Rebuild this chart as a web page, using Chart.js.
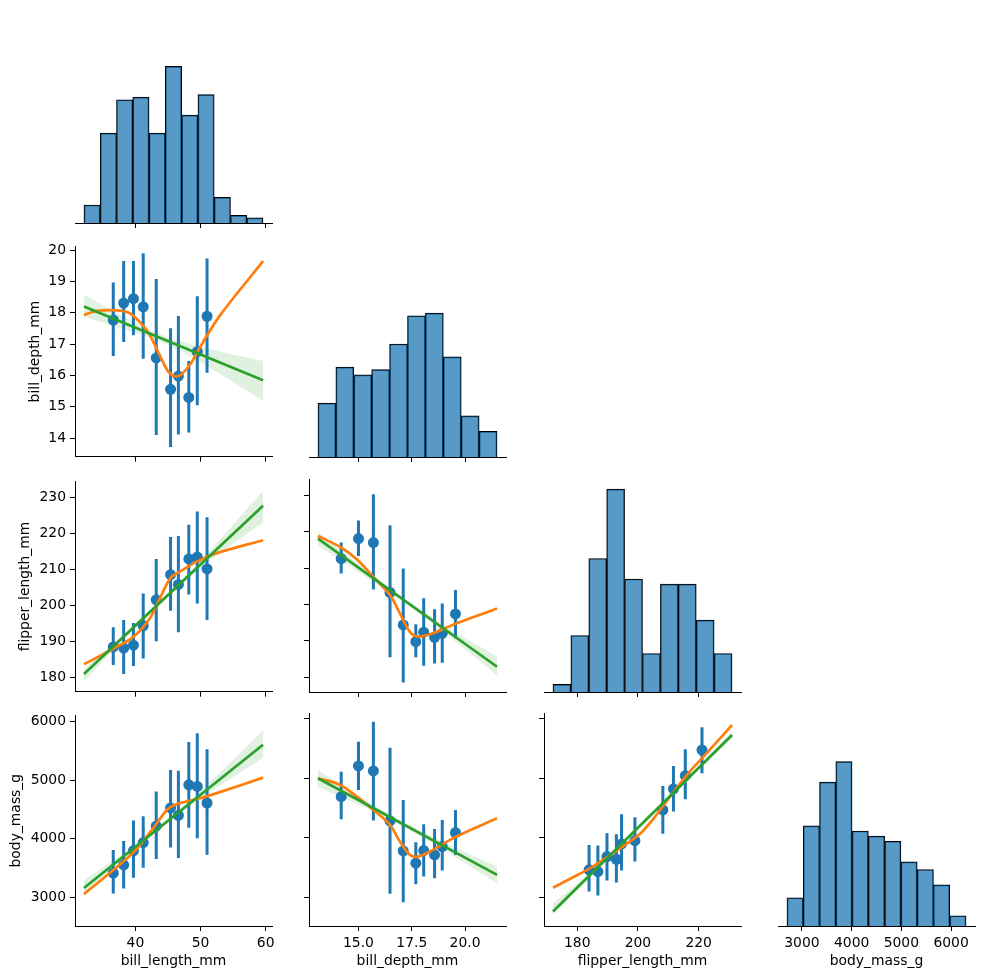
<!DOCTYPE html>
<html>
<head>
<meta charset="utf-8">
<script src="https://cdn.jsdelivr.net/npm/chart.js@4.4.1/dist/chart.umd.min.js"></script>
<style>
  body { margin: 0; background: #fff; }
  #fig { position: relative; width: 983px; height: 980px; overflow: hidden; }
  #fig canvas { position: absolute; }
</style>
</head>
<body>
<div id="fig"></div>
<script>
// variables of the pair grid
var vars = ['bill_length_mm', 'bill_depth_mm', 'flipper_length_mm', 'body_mass_g'];
var colLimits = [[30.725, 60.975], [12.68, 21.92], [169.05, 233.95], [2520, 6480]];
var rowLimits = [null, [13.41, 20.12], [175.97, 234.47], [2515, 6101]];
var colTicks = [[40, 50, 60], [15, 17.5, 20], [180, 200, 220], [3000, 4000, 5000, 6000]];
var rowTicks = [null, [14, 15, 16, 17, 18, 19, 20], [180, 190, 200, 210, 220, 230], [3000, 4000, 5000, 6000]];

// histograms (diagonal)
var lenEdges = [32.1, 34.6, 37.1, 39.6, 42.1, 44.6, 47.1, 49.6, 52.1, 54.6, 57.1, 59.6];
var lenCounts = [7, 35, 48, 49, 35, 61, 42, 50, 10, 3, 2];
var depEdges = [13.1, 13.94, 14.78, 15.62, 16.46, 17.3, 18.14, 18.98, 19.82, 20.66, 21.5];
var depCounts = [21, 35, 32, 34, 44, 55, 56, 39, 16, 10];
var flipEdges = [172, 177.9, 183.8, 189.7, 195.6, 201.5, 207.4, 213.3, 219.2, 225.1, 231];
var flipCounts = [3, 22, 52, 79, 44, 15, 42, 42, 28, 15];
var massEdges = [2700, 3027, 3355, 3682, 4009, 4336, 4664, 4991, 5318, 5645, 5973, 6300];
var massCounts = [11, 39, 56, 64, 37, 35, 33, 25, 22, 16, 4];
var histMax = 82.95;

// x bins (blue points)
var lenBins = [36.6, 38.2, 39.7, 41.2, 43.2, 45.4, 46.6, 48.2, 49.5, 51.0];
var depBins = [14.19, 15.0, 15.7, 16.48, 17.1, 17.69, 18.06, 18.57, 18.93, 19.55];
var flipBins = [183.9, 186.8, 189.8, 192.9, 194.6, 199.0, 208.2, 211.7, 215.6, 221.1];

// bill_depth vs bill_length
var depLenMean = [17.77, 18.31, 18.45, 18.19, 16.56, 15.56, 15.98, 15.30, 16.76, 17.89];
var depLenLo = [16.62, 17.07, 17.28, 16.53, 14.10, 13.72, 14.12, 14.18, 15.05, 16.09];
var depLenHi = [18.97, 19.65, 19.65, 19.90, 19.08, 17.51, 17.90, 16.46, 18.53, 19.73];
var depLenLowX = [32.1, 34.1, 37.2, 39.0, 40.5, 42.1, 43.6, 44.9, 45.9, 46.9, 48.5, 50.5, 53.1, 59.6];
var depLenLowY = [17.93, 18.06, 18.08, 18.0, 17.74, 17.33, 16.7, 16.17, 15.98, 16.01, 16.38, 17.11, 17.95, 19.65];
var depLenFitX = [32.1, 59.6];
var depLenFitY = [18.2, 15.85];
var depLenBandX = [32.1, 38, 44, 50, 59.6];
var depLenBandHi = [18.58, 17.9, 17.30, 16.92, 16.46];
var depLenBandLo = [17.87, 17.5, 17.06, 16.42, 15.2];

// flipper_length vs bill_length
var flipLenMean = [188.4, 188.1, 188.9, 194.3, 201.5, 208.5, 205.8, 212.9, 213.4, 210.1];
var flipLenLo = [183.4, 180.9, 183.1, 185.2, 190.0, 198.5, 192.5, 203.0, 200.5, 195.9];
var flipLenHi = [193.9, 195.9, 195.1, 203.3, 212.9, 219.0, 219.3, 222.4, 226.1, 224.5];
var flipLenLowX = [32.1, 36.2, 39.7, 42.3, 43.8, 45.4, 46.9, 49.5, 52.5, 59.6];
var flipLenLowY = [183.6, 187.5, 191.2, 196.6, 202.1, 207.6, 209.4, 212.2, 214.5, 218.1];
var flipLenFitX = [32.1, 59.6];
var flipLenFitY = [180.9, 227.7];
var flipLenBandX = [32.1, 38, 44, 50, 59.6];
var flipLenBandHi = [182.2, 191.8, 201.7, 212.4, 231.8];
var flipLenBandLo = [178.8, 190.0, 200.5, 210.4, 223.1];

// body_mass vs bill_length
var massLenMean = [3414, 3555, 3796, 3936, 4217, 4525, 4397, 4918, 4890, 4609];
var massLenLo = [3068, 3152, 3337, 3505, 3657, 3852, 3673, 4188, 4010, 3729];
var massLenHi = [3808, 3964, 4313, 4385, 4806, 5170, 5159, 5647, 5798, 5524];
var massLenLowX = [32.1, 36.2, 39.7, 42.8, 44.9, 46.4, 49.5, 52.5, 59.6];
var massLenLowY = [3056, 3431, 3768, 4188, 4497, 4592, 4676, 4777, 5041];
var massLenFitX = [32.1, 59.6];
var massLenFitY = [3162, 5601];
var massLenBandX = [32.1, 38, 44, 50, 59.6];
var massLenBandHi = [3291, 3740, 4257, 4815, 5843];
var massLenBandLo = [3078, 3630, 4177, 4685, 5378];

// flipper_length vs bill_depth
var flipDepMean = [212.6, 218.1, 217.0, 203.3, 194.4, 189.8, 192.4, 191.0, 192.1, 197.4];
var flipDepLo = [208.5, 213.3, 204.1, 185.5, 178.6, 185.5, 183.2, 183.8, 184.0, 190.7];
var flipDepHi = [217.0, 223.1, 230.3, 221.8, 209.9, 194.6, 201.7, 198.7, 200.3, 204.0];
var flipDepLowX = [13.1, 14.15, 14.92, 15.7, 16.48, 16.94, 17.41, 17.8, 18.49, 19.58, 21.5];
var flipDepLowY = [218.8, 215.8, 212.4, 207.6, 202.6, 197.6, 192.5, 191.2, 192.1, 194.8, 198.9];
var flipDepFitX = [13.1, 21.5];
var flipDepFitY = [218.1, 182.9];
var flipDepBandX = [13.1, 15.5, 17.2, 19, 21.5];
var flipDepBandHi = [220.0, 209.0, 201.6, 194.4, 185.7];
var flipDepBandLo = [216.3, 207.0, 200.2, 192.4, 180.6];

// body_mass vs bill_depth
var massDepMean = [4693, 5209, 5125, 4284, 3779, 3572, 3785, 3712, 3852, 4088];
var massDepLo = [4312, 4806, 4290, 3056, 2916, 3219, 3347, 3320, 3448, 3712];
var massDepHi = [5113, 5619, 5955, 5517, 4637, 3926, 4228, 4149, 4301, 4469];
var massDepLowX = [13.1, 14.15, 14.92, 15.7, 16.48, 16.94, 17.41, 17.8, 18.49, 19.58, 21.5];
var massDepLowY = [5002, 4890, 4693, 4469, 4217, 3936, 3712, 3684, 3796, 4020, 4329];
var massDepFitX = [13.1, 21.5];
var massDepFitY = [5002, 3375];
var massDepBandX = [13.1, 15.5, 17.2, 19, 21.5];
var massDepBandHi = [5142, 4597, 4253, 3924, 3515];
var massDepBandLo = [4861, 4477, 4163, 3794, 3234];

// body_mass vs flipper_length
var massFlipMean = [3460, 3432, 3684, 3639, 3897, 3953, 4469, 4822, 5046, 5478];
var massFlipLo = [3095, 3027, 3280, 3246, 3448, 3599, 4066, 4441, 4648, 5086];
var massFlipHi = [3880, 3869, 4077, 4060, 4397, 4346, 4872, 5209, 5489, 5860];
var massFlipLowX = [172, 178, 184, 190, 196, 201, 206, 211, 217, 224, 231];
var massFlipLowY = [3160, 3320, 3480, 3680, 3890, 4080, 4380, 4720, 5110, 5500, 5899];
var massFlipFitX = [172, 231];
var massFlipFitY = [2758, 5731];
var massFlipBandX = [172, 185, 201, 215, 231];
var massFlipBandHi = [2888, 3453, 4244, 4960, 5787];
var massFlipBandLo = [2703, 3373, 4194, 4890, 5675];

Chart.defaults.font.family = 'DejaVu Sans';
Chart.defaults.font.size = 13.9;
Chart.defaults.color = '#000';

// grid geometry
var colLeft = [75, 309, 544, 778];
var rowTop = [10, 244, 479, 713];
var areaW = 197, areaH = 213;
var padTop = 10, padRight = 20;
var firstColYW = [12, 52, 62, 71];

function pts(xs, ys) {
  return xs.map(function (x, i) { return { x: x, y: ys[i] }; });
}

function makeCanvas(left, top, w, h) {
  var c = document.createElement('canvas');
  c.width = w; c.height = h;
  c.style.left = left + 'px';
  c.style.top = top + 'px';
  document.getElementById('fig').appendChild(c);
  return c.getContext('2d');
}

var axisGrid = { display: true, drawOnChartArea: false, drawTicks: true, tickLength: 5, tickColor: '#000', tickWidth: 1, offset: false };
var axisBorder = { display: true, color: '#000', width: 1 };

function fmt(col) {
  return function (v) { return col === 1 ? v.toFixed(1) : String(v); };
}

function xScale(col, row, xh) {
  var last = row === 3;
  return {
    type: 'linear', min: colLimits[col][0], max: colLimits[col][1], offset: false,
    afterBuildTicks: function (s) { s.ticks = colTicks[col].map(function (v) { return { value: v }; }); },
    afterFit: function (s) { s.height = xh; },
    grid: axisGrid, border: axisBorder,
    ticks: { display: last, padding: 4, maxRotation: 0, autoSkip: false, callback: fmt(col) },
    title: { display: last, text: vars[col], padding: { top: 0, bottom: 2 } }
  };
}

function yScale(row, col, yw) {
  var first = col === 0;
  return {
    type: 'linear', min: rowLimits[row][0], max: rowLimits[row][1],
    afterBuildTicks: function (s) { s.ticks = rowTicks[row].map(function (v) { return { value: v }; }); },
    afterFit: function (s) { s.width = yw; },
    grid: axisGrid, border: axisBorder,
    ticks: { display: first, padding: 4, autoSkip: false, callback: function (v) { return String(v); } },
    title: { display: first, text: vars[row], padding: { top: 4, bottom: 4 } }
  };
}

var baseOpts = {
  responsive: false, animation: false, events: [],
  plugins: { legend: { display: false }, tooltip: { enabled: false } }
};

function diagPanel(i, edges, counts) {
  var yw = 12, xh = i === 3 ? 46 : 12;
  var ctx = makeCanvas(colLeft[i] - yw, rowTop[i] - padTop, yw + areaW + padRight, padTop + areaH + xh);
  var bars = counts.map(function (c, k) { return { x: (edges[k] + edges[k + 1]) / 2, y: c }; });
  new Chart(ctx, {
    type: 'bar',
    data: { datasets: [{
      data: bars,
      backgroundColor: 'rgba(31,119,180,0.75)',
      borderColor: '#000', borderWidth: 1,
      barPercentage: 1, categoryPercentage: 1
    }] },
    options: Object.assign({}, baseOpts, {
      layout: { padding: { top: padTop, right: padRight, left: yw, bottom: 0 } },
      scales: { x: xScale(i, i, xh), y: { display: false, min: 0, max: histMax } }
    })
  });
}

function offPanel(row, col, bins, p) {
  var yw = col === 0 ? firstColYW[row] : 12;
  var xh = row === 3 ? 46 : 12;
  var ctx = makeCanvas(colLeft[col] - yw, rowTop[row] - padTop, yw + areaW + padRight, padTop + areaH + xh);
  var err = [];
  bins.forEach(function (b, k) {
    err.push({ x: b, y: p.lo[k] }, { x: b, y: p.hi[k] }, { x: b, y: null });
  });
  new Chart(ctx, {
    type: 'scatter',
    data: { datasets: [
      { data: pts(p.fitX, p.fitY), showLine: true, borderColor: '#2ca02c', borderWidth: 2.7, pointRadius: 0, order: 0 },
      { data: pts(p.lowX, p.lowY), showLine: true, borderColor: '#ff7f0e', borderWidth: 2.7, pointRadius: 0, tension: 0.3, order: 1 },
      { data: pts(bins, p.mean), pointRadius: 5.5, backgroundColor: '#1f77b4', borderWidth: 0, order: 2 },
      { data: err, showLine: true, borderColor: '#1f77b4', borderWidth: 3, pointRadius: 0, order: 3 },
      { data: pts(p.bandX, p.bandHi), showLine: true, borderWidth: 0, pointRadius: 0, tension: 0.3, fill: '+1', backgroundColor: 'rgba(44,160,44,0.15)', order: 4 },
      { data: pts(p.bandX, p.bandLo), showLine: true, borderWidth: 0, pointRadius: 0, tension: 0.3, order: 5 }
    ] },
    options: Object.assign({}, baseOpts, {
      layout: { padding: { top: padTop, right: padRight, left: 0, bottom: 0 } },
      scales: { x: xScale(col, row, xh), y: yScale(row, col, yw) }
    })
  });
}

diagPanel(0, lenEdges, lenCounts);
diagPanel(1, depEdges, depCounts);
diagPanel(2, flipEdges, flipCounts);
diagPanel(3, massEdges, massCounts);

offPanel(1, 0, lenBins, { mean: depLenMean, lo: depLenLo, hi: depLenHi, lowX: depLenLowX, lowY: depLenLowY,
  fitX: depLenFitX, fitY: depLenFitY, bandX: depLenBandX, bandHi: depLenBandHi, bandLo: depLenBandLo });
offPanel(2, 0, lenBins, { mean: flipLenMean, lo: flipLenLo, hi: flipLenHi, lowX: flipLenLowX, lowY: flipLenLowY,
  fitX: flipLenFitX, fitY: flipLenFitY, bandX: flipLenBandX, bandHi: flipLenBandHi, bandLo: flipLenBandLo });
offPanel(3, 0, lenBins, { mean: massLenMean, lo: massLenLo, hi: massLenHi, lowX: massLenLowX, lowY: massLenLowY,
  fitX: massLenFitX, fitY: massLenFitY, bandX: massLenBandX, bandHi: massLenBandHi, bandLo: massLenBandLo });
offPanel(2, 1, depBins, { mean: flipDepMean, lo: flipDepLo, hi: flipDepHi, lowX: flipDepLowX, lowY: flipDepLowY,
  fitX: flipDepFitX, fitY: flipDepFitY, bandX: flipDepBandX, bandHi: flipDepBandHi, bandLo: flipDepBandLo });
offPanel(3, 1, depBins, { mean: massDepMean, lo: massDepLo, hi: massDepHi, lowX: massDepLowX, lowY: massDepLowY,
  fitX: massDepFitX, fitY: massDepFitY, bandX: massDepBandX, bandHi: massDepBandHi, bandLo: massDepBandLo });
offPanel(3, 2, flipBins, { mean: massFlipMean, lo: massFlipLo, hi: massFlipHi, lowX: massFlipLowX, lowY: massFlipLowY,
  fitX: massFlipFitX, fitY: massFlipFitY, bandX: massFlipBandX, bandHi: massFlipBandHi, bandLo: massFlipBandLo });
</script>
</body>
</html>
